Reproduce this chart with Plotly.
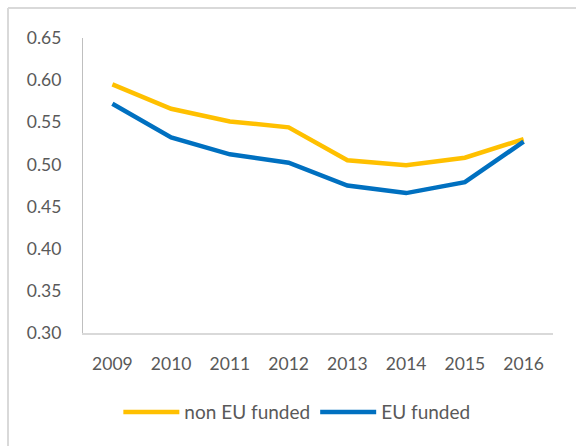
import plotly.graph_objects as go

years = ["2009", "2010", "2011", "2012", "2013", "2014", "2015", "2016"]
non_eu_funded = [0.595, 0.566, 0.551, 0.544, 0.505, 0.499, 0.508, 0.530]
eu_funded = [0.572, 0.532, 0.512, 0.502, 0.475, 0.466, 0.479, 0.527]
y_ticks = [0.30, 0.35, 0.40, 0.45, 0.50, 0.55, 0.60, 0.65]

FONT = "Lato"
TXT = "#595959"

W, H = 576, 446
L, T = 83, 38
PW = 470
PH = 295
B = H - T - PH

bx = (8 - L) / PW          # left frame edge in paper units
by = 1 + (T - 8) / PH      # top frame edge in paper units
rx = (W - L) / PW          # right figure edge in paper units
ly = -B / PH               # bottom figure edge in paper units

fig = go.Figure()
fig.add_trace(go.Scatter(x=years, y=non_eu_funded, mode="lines", name="non EU funded",
                         line=dict(color="#FFC000", width=4.5)))
fig.add_trace(go.Scatter(x=years, y=eu_funded, mode="lines", name="EU funded",
                         line=dict(color="#0070C0", width=4.5)))

fig.update_layout(
    width=W, height=H,
    margin=dict(l=L, r=W - L - PW, t=T, b=B, pad=0),
    paper_bgcolor="white", plot_bgcolor="white",
    font=dict(family=FONT, size=17.5, color=TXT),
    showlegend=True,
    legend=dict(orientation="h", x=0.455, xanchor="center", y=-0.268, yanchor="middle",
                font=dict(family=FONT, size=19, color=TXT), itemwidth=56,
                traceorder="normal", bgcolor="rgba(0,0,0,0)"),
    xaxis=dict(type="category", range=[-0.5, 7.5], showgrid=False, showline=True,
               linecolor="#D9D9D9", linewidth=1.5, ticks="", ticklabelstandoff=14,
               zeroline=False, tickfont=dict(family=FONT, size=17.5, color=TXT)),
    yaxis=dict(range=[0.30, 0.65], tickvals=y_ticks, tickformat=".2f", showgrid=False,
               showline=True, linecolor="#BFBFBF", linewidth=1.3, ticks="",
               ticklabelstandoff=17, zeroline=False,
               tickfont=dict(family=FONT, size=17.5, color=TXT)),
    shapes=[
        dict(type="line", xref="paper", yref="paper", x0=bx, x1=bx, y0=ly, y1=by,
             line=dict(color="#D9D9D9", width=2), layer="below"),
        dict(type="line", xref="paper", yref="paper", x0=bx, x1=rx, y0=by, y1=by,
             line=dict(color="#D9D9D9", width=2), layer="below"),
    ],
)

fig.write_html(
    "out.html",
    config={"displayModeBar": False},
    post_script="document.body.style.margin='0';document.body.style.overflow='hidden';",
)
